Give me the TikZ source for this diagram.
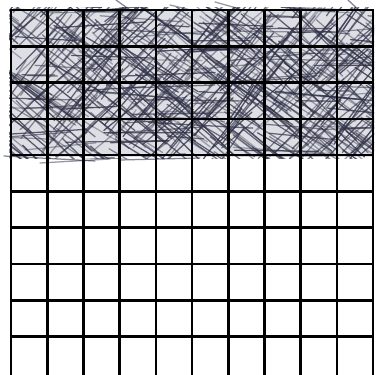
\documentclass[tikz,border=0pt]{standalone}
\begin{document}
\begin{tikzpicture}[x=1pt,y=1pt,
  gridline/.style={line width=2.6pt, black},
  hatchline/.style={line width=1.25pt, color={rgb,255:red,48;green,50;blue,72}, line cap=round}]
\useasboundingbox (0,0) rectangle (376,375);
\fill[white] (0,0) rectangle (376,375);
% light tone of the shaded area
\fill[color={rgb,255:red,222;green,223;blue,228}] (10,218) rectangle (373,366);
% scribbled shading of the top four rows
\begin{scope}
  \clip (9,216) rectangle (374,367);
  \pgfmathsetseed{5}
  \foreach \i in {1,...,640}{
    \pgfmathsetmacro{\xa}{-15+390*rnd}
    \pgfmathsetmacro{\ya}{200+180*rnd}
    \pgfmathsetmacro{\r}{rnd}
    \pgfmathsetmacro{\ang}{\r<0.45 ? -30-16*rnd : (\r<0.85 ? 38+18*rnd : -6+12*rnd)}
    \pgfmathsetmacro{\len}{30+80*rnd}
    \pgfmathsetmacro{\op}{0.35+0.5*rnd}
    \draw[hatchline, opacity=\op] (\xa,\ya) -- ++(\ang:\len);
  }
\end{scope}
% a few strokes running past the edges
\draw[hatchline, opacity=0.6] (4,219) -- (95,214);
\draw[hatchline, opacity=0.6] (120,215) -- (200,217);
\draw[hatchline, opacity=0.5] (40,212) -- (110,216);
\draw[hatchline, opacity=0.6] (348,375) -- (362,362);
\draw[hatchline, opacity=0.6] (116,375) -- (130,365);
\draw[hatchline, opacity=0.5] (215,373) -- (240,366);
\draw[hatchline, opacity=0.5] (170,370) -- (195,364);
% grid
\begin{scope}
  \clip (0,0) rectangle (376,375);
  \foreach \k in {0,...,10}{
    \draw[gridline] ({11+36.2*\k},365) -- ({11+36.2*\k},-5);
  }
  \foreach \k in {0,...,9}{
    \draw[gridline] (9.7,{365-36.3*\k}) -- (374.3,{365-36.3*\k});
  }
\end{scope}
\end{tikzpicture}
\end{document}
